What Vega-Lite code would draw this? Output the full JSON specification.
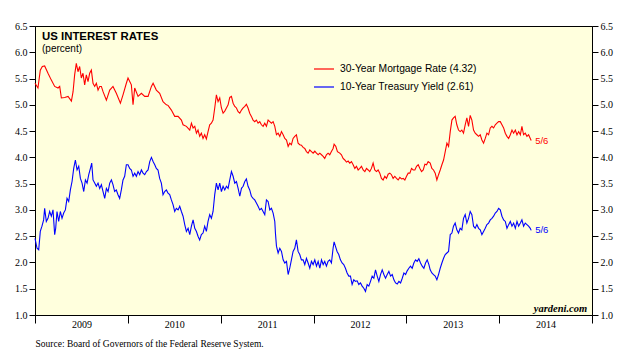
{
"$schema":"https://vega.github.io/schema/vega-lite/v6.json",
"width":557,"height":289,
"autosize":{"type":"none"},
"padding":{"left":35,"top":26,"right":38,"bottom":46},
"background":"white",
"config":{"view":{"fill":"#FFFFDD","stroke":"#000","strokeWidth":1},"font":"Liberation Sans"},
"title":{"text":"US INTEREST RATES","subtitle":"(percent)","anchor":"start","frame":"group","orient":"top","font":"Liberation Sans","fontSize":11.4,"fontWeight":"bold","color":"#000","subtitleFont":"Liberation Sans","subtitleFontSize":10,"subtitleColor":"#000","subtitlePadding":2,"offset":0,"dx":7,"dy":33},
"datasets":{
"m":[
{"d":2009.0,"v":5.41},{"d":2009.032,"v":5.32},{"d":2009.057,"v":5.66},{"d":2009.079,"v":5.73},{"d":2009.104,"v":5.74},{"d":2009.14,"v":5.6},{"d":2009.176,"v":5.47},{"d":2009.212,"v":5.35},{"d":2009.248,"v":5.32},{"d":2009.266,"v":5.35},{"d":2009.284,"v":5.13},{"d":2009.32,"v":5.14},{"d":2009.356,"v":5.16},{"d":2009.392,"v":5.07},{"d":2009.41,"v":5.25},{"d":2009.427,"v":5.57},{"d":2009.445,"v":5.79},{"d":2009.463,"v":5.63},{"d":2009.481,"v":5.73},{"d":2009.499,"v":5.51},{"d":2009.517,"v":5.6},{"d":2009.535,"v":5.38},{"d":2009.553,"v":5.57},{"d":2009.571,"v":5.44},{"d":2009.589,"v":5.6},{"d":2009.607,"v":5.66},{"d":2009.625,"v":5.41},{"d":2009.643,"v":5.35},{"d":2009.661,"v":5.41},{"d":2009.679,"v":5.28},{"d":2009.697,"v":5.35},{"d":2009.715,"v":5.35},{"d":2009.733,"v":5.25},{"d":2009.769,"v":5.09},{"d":2009.805,"v":5.28},{"d":2009.84,"v":5.35},{"d":2009.876,"v":5.22},{"d":2009.92,"v":5.03},{"d":2009.948,"v":5.19},{"d":2009.984,"v":5.41},{"d":2010.002,"v":5.51},{"d":2010.038,"v":5.38},{"d":2010.056,"v":5.0},{"d":2010.074,"v":5.32},{"d":2010.11,"v":5.16},{"d":2010.146,"v":5.22},{"d":2010.182,"v":5.16},{"d":2010.218,"v":5.16},{"d":2010.254,"v":5.35},{"d":2010.272,"v":5.41},{"d":2010.307,"v":5.28},{"d":2010.343,"v":5.22},{"d":2010.379,"v":5.06},{"d":2010.415,"v":5.0},
{"d":2010.433,"v":4.99},{"d":2010.469,"v":4.9},{"d":2010.505,"v":4.78},{"d":2010.541,"v":4.78},{"d":2010.577,"v":4.71},{"d":2010.595,"v":4.62},{"d":2010.631,"v":4.59},{"d":2010.667,"v":4.52},{"d":2010.685,"v":4.65},{"d":2010.703,"v":4.56},{"d":2010.721,"v":4.59},{"d":2010.739,"v":4.46},{"d":2010.756,"v":4.52},{"d":2010.774,"v":4.4},{"d":2010.792,"v":4.46},{"d":2010.81,"v":4.36},{"d":2010.828,"v":4.43},{"d":2010.846,"v":4.35},{"d":2010.864,"v":4.49},{"d":2010.882,"v":4.62},{"d":2010.9,"v":4.65},{"d":2010.918,"v":4.71},{"d":2010.936,"v":4.94},{"d":2010.954,"v":5.19},{"d":2010.972,"v":5.06},{"d":2010.99,"v":5.13},{"d":2011.008,"v":4.94},{"d":2011.026,"v":4.84},{"d":2011.044,"v":4.88},{"d":2011.062,"v":4.94},{"d":2011.08,"v":5.0},{"d":2011.098,"v":5.14},{"d":2011.116,"v":5.16},{"d":2011.134,"v":5.03},{"d":2011.152,"v":4.97},{"d":2011.17,"v":4.94},{"d":2011.188,"v":4.87},{"d":2011.206,"v":4.84},{"d":2011.224,"v":4.9},{"d":2011.242,"v":4.94},{"d":2011.26,"v":4.97},{"d":2011.277,"v":5.01},{"d":2011.295,"v":4.94},{"d":2011.313,"v":4.84},{"d":2011.331,"v":4.78},{"d":2011.349,"v":4.71},{"d":2011.367,"v":4.68},{"d":2011.385,"v":4.71},{"d":2011.403,"v":4.65},{"d":2011.421,"v":4.68},{"d":2011.439,"v":4.62},{"d":2011.457,"v":4.59},{"d":2011.475,"v":4.65},{"d":2011.493,"v":4.59},{"d":2011.511,"v":4.71},{"d":2011.529,"v":4.68},{"d":2011.547,"v":4.65},{"d":2011.565,"v":4.68},{"d":2011.583,"v":4.59},{"d":2011.601,"v":4.43},{"d":2011.619,"v":4.46},{"d":2011.637,"v":4.4},{"d":2011.655,"v":4.49},{"d":2011.673,"v":4.43},{"d":2011.691,"v":4.36},{"d":2011.709,"v":4.33},{"d":2011.727,"v":4.21},{"d":2011.744,"v":4.27},{"d":2011.762,"v":4.24},{"d":2011.78,"v":4.36},{"d":2011.798,"v":4.4},{"d":2011.816,"v":4.43},{"d":2011.834,"v":4.27},{"d":2011.852,"v":4.24},{"d":2011.87,"v":4.23},
{"d":2011.888,"v":4.19},{"d":2011.906,"v":4.17},{"d":2011.924,"v":4.11},{"d":2011.942,"v":4.08},{"d":2011.96,"v":4.14},{"d":2011.978,"v":4.11},{"d":2011.996,"v":4.08},{"d":2012.014,"v":4.12},{"d":2012.032,"v":4.08},{"d":2012.05,"v":4.05},{"d":2012.068,"v":4.08},{"d":2012.086,"v":4.05},{"d":2012.104,"v":4.02},{"d":2012.121,"v":3.98},{"d":2012.139,"v":4.05},{"d":2012.157,"v":4.08},{"d":2012.175,"v":4.05},{"d":2012.193,"v":4.11},{"d":2012.211,"v":4.17},{"d":2012.222,"v":4.25},{"d":2012.24,"v":4.21},{"d":2012.258,"v":4.11},{"d":2012.283,"v":4.08},{"d":2012.301,"v":4.05},{"d":2012.319,"v":3.98},{"d":2012.337,"v":3.95},{"d":2012.355,"v":3.91},{"d":2012.373,"v":3.93},{"d":2012.391,"v":3.89},{"d":2012.409,"v":3.92},{"d":2012.427,"v":3.86},{"d":2012.445,"v":3.79},{"d":2012.463,"v":3.83},{"d":2012.481,"v":3.76},{"d":2012.499,"v":3.79},{"d":2012.517,"v":3.83},{"d":2012.535,"v":3.76},{"d":2012.553,"v":3.73},{"d":2012.571,"v":3.79},{"d":2012.589,"v":3.76},{"d":2012.606,"v":3.73},{"d":2012.624,"v":3.79},{"d":2012.642,"v":3.89},{"d":2012.66,"v":3.76},{"d":2012.678,"v":3.73},{"d":2012.696,"v":3.76},{"d":2012.714,"v":3.7},{"d":2012.732,"v":3.6},{"d":2012.75,"v":3.57},{"d":2012.768,"v":3.64},{"d":2012.786,"v":3.6},{"d":2012.804,"v":3.68},{"d":2012.822,"v":3.7},{"d":2012.84,"v":3.67},{"d":2012.858,"v":3.6},{"d":2012.876,"v":3.64},{"d":2012.894,"v":3.6},{"d":2012.912,"v":3.57},{"d":2012.93,"v":3.62},{"d":2012.948,"v":3.59},{"d":2012.966,"v":3.6},{"d":2012.984,"v":3.57},{"d":2013.002,"v":3.64},{"d":2013.02,"v":3.7},{"d":2013.038,"v":3.7},{"d":2013.056,"v":3.79},{"d":2013.074,"v":3.76},{"d":2013.092,"v":3.76},{"d":2013.11,"v":3.83},{"d":2013.128,"v":3.86},{"d":2013.146,"v":3.79},{"d":2013.164,"v":3.73},{"d":2013.182,"v":3.76},{"d":2013.2,"v":3.87},{"d":2013.218,"v":3.86},{"d":2013.235,"v":3.92},
{"d":2013.257,"v":3.89},{"d":2013.275,"v":3.79},{"d":2013.293,"v":3.76},{"d":2013.311,"v":3.7},{"d":2013.329,"v":3.57},{"d":2013.347,"v":3.67},{"d":2013.365,"v":3.76},{"d":2013.383,"v":3.86},{"d":2013.401,"v":3.95},{"d":2013.419,"v":4.11},{"d":2013.437,"v":4.27},{"d":2013.455,"v":4.21},{"d":2013.473,"v":4.49},{"d":2013.491,"v":4.71},{"d":2013.508,"v":4.75},{"d":2013.526,"v":4.78},{"d":2013.544,"v":4.62},{"d":2013.562,"v":4.52},{"d":2013.58,"v":4.49},{"d":2013.598,"v":4.52},{"d":2013.616,"v":4.46},{"d":2013.634,"v":4.62},{"d":2013.652,"v":4.75},{"d":2013.67,"v":4.59},{"d":2013.688,"v":4.8},{"d":2013.706,"v":4.71},{"d":2013.724,"v":4.52},{"d":2013.742,"v":4.46},{"d":2013.76,"v":4.43},{"d":2013.778,"v":4.4},{"d":2013.796,"v":4.43},{"d":2013.814,"v":4.33},{"d":2013.832,"v":4.27},{"d":2013.85,"v":4.36},{"d":2013.868,"v":4.46},{"d":2013.886,"v":4.43},{"d":2013.904,"v":4.56},{"d":2013.922,"v":4.59},{"d":2013.94,"v":4.56},{"d":2013.958,"v":4.62},{"d":2013.976,"v":4.65},{"d":2013.994,"v":4.68},{"d":2014.012,"v":4.68},{"d":2014.03,"v":4.62},{"d":2014.048,"v":4.56},{"d":2014.066,"v":4.46},{"d":2014.084,"v":4.4},{"d":2014.102,"v":4.36},{"d":2014.12,"v":4.43},{"d":2014.138,"v":4.52},{"d":2014.156,"v":4.46},{"d":2014.174,"v":4.52},{"d":2014.192,"v":4.43},{"d":2014.21,"v":4.49},{"d":2014.228,"v":4.43},{"d":2014.245,"v":4.59},{"d":2014.263,"v":4.43},{"d":2014.281,"v":4.46},{"d":2014.299,"v":4.4},{"d":2014.317,"v":4.43},{"d":2014.335,"v":4.36},{"d":2014.345,"v":4.32}
],
"t":[
{"d":2009.0,"v":2.46},{"d":2009.022,"v":2.27},{"d":2009.04,"v":2.24},{"d":2009.057,"v":2.59},{"d":2009.075,"v":2.69},{"d":2009.093,"v":2.81},{"d":2009.104,"v":3.03},{"d":2009.122,"v":2.78},{"d":2009.14,"v":2.84},{"d":2009.158,"v":2.97},{"d":2009.176,"v":2.88},{"d":2009.194,"v":3.0},{"d":2009.212,"v":2.53},{"d":2009.223,"v":2.65},{"d":2009.237,"v":2.97},{"d":2009.255,"v":2.78},{"d":2009.273,"v":2.97},{"d":2009.291,"v":2.84},{"d":2009.309,"v":2.94},{"d":2009.327,"v":3.0},{"d":2009.345,"v":3.22},{"d":2009.363,"v":3.16},{"d":2009.381,"v":3.38},{"d":2009.399,"v":3.54},{"d":2009.417,"v":3.79},{"d":2009.435,"v":3.95},{"d":2009.453,"v":3.76},{"d":2009.471,"v":3.83},{"d":2009.489,"v":3.6},{"d":2009.507,"v":3.51},{"d":2009.525,"v":3.35},{"d":2009.543,"v":3.57},{"d":2009.561,"v":3.51},{"d":2009.579,"v":3.67},{"d":2009.597,"v":3.79},{"d":2009.611,"v":3.89},{"d":2009.625,"v":3.57},{"d":2009.643,"v":3.51},{"d":2009.661,"v":3.45},{"d":2009.679,"v":3.51},{"d":2009.697,"v":3.41},{"d":2009.715,"v":3.48},{"d":2009.733,"v":3.35},{"d":2009.751,"v":3.22},{"d":2009.769,"v":3.41},{"d":2009.787,"v":3.35},{"d":2009.805,"v":3.51},{"d":2009.823,"v":3.57},{"d":2009.84,"v":3.48},{"d":2009.858,"v":3.35},{"d":2009.876,"v":3.38},{"d":2009.894,"v":3.29},{"d":2009.912,"v":3.22},{"d":2009.93,"v":3.38},{"d":2009.948,"v":3.57},{"d":2009.966,"v":3.64},{"d":2009.984,"v":3.86},{"d":2010.002,"v":3.86},{"d":2010.02,"v":3.79},{"d":2010.038,"v":3.76},{"d":2010.056,"v":3.64},{"d":2010.074,"v":3.7},{"d":2010.092,"v":3.64},{"d":2010.11,"v":3.73},{"d":2010.128,"v":3.67},{"d":2010.146,"v":3.76},{"d":2010.164,"v":3.7},{"d":2010.182,"v":3.67},{"d":2010.2,"v":3.73},{"d":2010.218,"v":3.76},{"d":2010.236,"v":3.92},{"d":2010.254,"v":4.0},{"d":2010.272,"v":3.92},{"d":2010.29,"v":3.86},{"d":2010.307,"v":3.79},{"d":2010.325,"v":3.76},{"d":2010.343,"v":3.6},{"d":2010.361,"v":3.51},{"d":2010.379,"v":3.29},{"d":2010.397,"v":3.35},{"d":2010.415,"v":3.38},
{"d":2010.433,"v":3.32},{"d":2010.451,"v":3.29},{"d":2010.469,"v":3.19},{"d":2010.487,"v":3.1},{"d":2010.505,"v":2.97},{"d":2010.523,"v":3.03},{"d":2010.541,"v":3.0},{"d":2010.559,"v":3.07},{"d":2010.577,"v":2.97},{"d":2010.595,"v":2.88},{"d":2010.613,"v":2.72},{"d":2010.631,"v":2.59},{"d":2010.649,"v":2.65},{"d":2010.667,"v":2.53},{"d":2010.685,"v":2.69},{"d":2010.703,"v":2.81},{"d":2010.721,"v":2.65},{"d":2010.739,"v":2.59},{"d":2010.756,"v":2.5},{"d":2010.774,"v":2.43},{"d":2010.792,"v":2.53},{"d":2010.81,"v":2.56},{"d":2010.828,"v":2.69},{"d":2010.846,"v":2.59},{"d":2010.864,"v":2.78},{"d":2010.882,"v":2.91},{"d":2010.9,"v":2.84},{"d":2010.918,"v":2.97},{"d":2010.936,"v":3.29},{"d":2010.954,"v":3.51},{"d":2010.972,"v":3.38},{"d":2010.99,"v":3.51},{"d":2011.008,"v":3.35},{"d":2011.026,"v":3.45},{"d":2011.044,"v":3.38},{"d":2011.062,"v":3.45},{"d":2011.08,"v":3.41},{"d":2011.098,"v":3.57},{"d":2011.116,"v":3.73},{"d":2011.134,"v":3.64},{"d":2011.152,"v":3.51},{"d":2011.17,"v":3.54},{"d":2011.188,"v":3.41},{"d":2011.206,"v":3.26},{"d":2011.224,"v":3.41},{"d":2011.242,"v":3.45},{"d":2011.26,"v":3.54},{"d":2011.277,"v":3.59},{"d":2011.295,"v":3.45},{"d":2011.313,"v":3.38},{"d":2011.331,"v":3.26},{"d":2011.349,"v":3.22},{"d":2011.367,"v":3.19},{"d":2011.385,"v":3.13},{"d":2011.403,"v":3.07},{"d":2011.421,"v":3.0},{"d":2011.439,"v":3.03},{"d":2011.457,"v":2.97},{"d":2011.475,"v":2.91},{"d":2011.493,"v":3.19},{"d":2011.511,"v":3.16},{"d":2011.529,"v":3.0},{"d":2011.547,"v":3.03},{"d":2011.565,"v":2.94},{"d":2011.583,"v":2.78},{"d":2011.59,"v":2.56},{"d":2011.601,"v":2.31},{"d":2011.619,"v":2.18},{"d":2011.637,"v":2.27},{"d":2011.655,"v":2.21},{"d":2011.673,"v":2.05},{"d":2011.691,"v":1.99},{"d":2011.709,"v":2.02},{"d":2011.727,"v":1.77},{"d":2011.744,"v":1.89},{"d":2011.762,"v":2.05},{"d":2011.78,"v":2.21},{"d":2011.798,"v":2.27},{"d":2011.816,"v":2.43},{"d":2011.834,"v":2.21},{"d":2011.852,"v":2.15},{"d":2011.87,"v":2.05},
{"d":2011.888,"v":2.05},{"d":2011.906,"v":1.96},{"d":2011.924,"v":2.08},{"d":2011.942,"v":1.99},{"d":2011.96,"v":1.89},{"d":2011.978,"v":2.02},{"d":2011.996,"v":1.96},{"d":2012.014,"v":2.05},{"d":2012.032,"v":1.93},{"d":2012.05,"v":2.02},{"d":2012.068,"v":1.89},{"d":2012.086,"v":2.05},{"d":2012.104,"v":1.96},{"d":2012.121,"v":2.02},{"d":2012.139,"v":1.93},{"d":2012.157,"v":2.02},{"d":2012.175,"v":2.05},{"d":2012.193,"v":1.99},{"d":2012.211,"v":2.27},{"d":2012.222,"v":2.39},{"d":2012.236,"v":2.31},{"d":2012.254,"v":2.21},{"d":2012.272,"v":2.15},{"d":2012.29,"v":2.05},{"d":2012.308,"v":1.99},{"d":2012.326,"v":1.96},{"d":2012.344,"v":1.89},{"d":2012.362,"v":1.8},{"d":2012.38,"v":1.74},{"d":2012.398,"v":1.74},{"d":2012.416,"v":1.58},{"d":2012.434,"v":1.67},{"d":2012.452,"v":1.64},{"d":2012.47,"v":1.65},{"d":2012.488,"v":1.58},{"d":2012.506,"v":1.61},{"d":2012.524,"v":1.55},{"d":2012.542,"v":1.51},{"d":2012.56,"v":1.45},{"d":2012.578,"v":1.58},{"d":2012.596,"v":1.55},{"d":2012.614,"v":1.64},{"d":2012.632,"v":1.74},{"d":2012.65,"v":1.7},{"d":2012.668,"v":1.86},{"d":2012.686,"v":1.74},{"d":2012.704,"v":1.64},{"d":2012.722,"v":1.77},{"d":2012.74,"v":1.86},{"d":2012.758,"v":1.77},{"d":2012.776,"v":1.7},{"d":2012.794,"v":1.77},{"d":2012.812,"v":1.83},{"d":2012.83,"v":1.74},{"d":2012.848,"v":1.77},{"d":2012.866,"v":1.67},{"d":2012.884,"v":1.61},{"d":2012.902,"v":1.59},{"d":2012.92,"v":1.64},{"d":2012.938,"v":1.61},{"d":2012.956,"v":1.7},{"d":2012.974,"v":1.8},{"d":2012.992,"v":1.77},{"d":2013.009,"v":1.84},{"d":2013.027,"v":1.89},{"d":2013.045,"v":1.93},{"d":2013.063,"v":1.89},{"d":2013.081,"v":1.99},{"d":2013.099,"v":2.05},{"d":2013.117,"v":2.02},{"d":2013.135,"v":2.07},{"d":2013.153,"v":1.99},{"d":2013.171,"v":1.93},{"d":2013.189,"v":1.89},{"d":2013.207,"v":1.99},{"d":2013.225,"v":2.05},{"d":2013.243,"v":1.96},
{"d":2013.257,"v":1.86},{"d":2013.275,"v":1.8},{"d":2013.293,"v":1.77},{"d":2013.311,"v":1.74},{"d":2013.329,"v":1.67},{"d":2013.347,"v":1.77},{"d":2013.365,"v":1.89},{"d":2013.383,"v":1.99},{"d":2013.401,"v":2.08},{"d":2013.419,"v":2.15},{"d":2013.437,"v":2.18},{"d":2013.455,"v":2.21},{"d":2013.473,"v":2.53},{"d":2013.491,"v":2.56},{"d":2013.508,"v":2.69},{"d":2013.526,"v":2.75},{"d":2013.544,"v":2.62},{"d":2013.562,"v":2.56},{"d":2013.58,"v":2.65},{"d":2013.598,"v":2.62},{"d":2013.616,"v":2.84},{"d":2013.634,"v":2.91},{"d":2013.652,"v":2.75},{"d":2013.67,"v":2.84},{"d":2013.688,"v":2.97},{"d":2013.706,"v":2.91},{"d":2013.724,"v":2.69},{"d":2013.742,"v":2.65},{"d":2013.76,"v":2.72},{"d":2013.778,"v":2.65},{"d":2013.796,"v":2.62},{"d":2013.814,"v":2.53},{"d":2013.832,"v":2.59},{"d":2013.85,"v":2.65},{"d":2013.868,"v":2.72},{"d":2013.886,"v":2.75},{"d":2013.904,"v":2.81},{"d":2013.922,"v":2.84},{"d":2013.94,"v":2.88},{"d":2013.958,"v":2.94},{"d":2013.976,"v":2.97},{"d":2013.994,"v":3.03},{"d":2014.012,"v":3.0},{"d":2014.03,"v":2.88},{"d":2014.048,"v":2.81},{"d":2014.066,"v":2.78},{"d":2014.084,"v":2.65},{"d":2014.102,"v":2.72},{"d":2014.12,"v":2.78},{"d":2014.138,"v":2.69},{"d":2014.156,"v":2.75},{"d":2014.174,"v":2.65},{"d":2014.192,"v":2.78},{"d":2014.21,"v":2.69},{"d":2014.228,"v":2.75},{"d":2014.245,"v":2.81},{"d":2014.263,"v":2.69},{"d":2014.281,"v":2.75},{"d":2014.299,"v":2.72},{"d":2014.317,"v":2.69},{"d":2014.335,"v":2.65},{"d":2014.345,"v":2.61}
]
},
"layer":[
{"data":{"name":"m"},
 "mark":{"type":"line","strokeWidth":1.1},
 "encoding":{
  "x":{"field":"d","type":"quantitative","scale":{"domain":[2009,2015],"nice":false,"zero":false},
   "axis":{"values":[2009,2010,2011,2012,2013,2014,2015],"labelExpr":"datum.value < 2015 ? '' + datum.value : ''","labelOffset":46.4,"tickSize":8,"tickColor":"#000","domainColor":"#000","labelFont":"Liberation Serif","labelFontSize":10,"labelColor":"#000","labelPadding":-4,"grid":false,"labelFlush":false,"labelOverlap":false,"labelBound":false,
    "title":"Source: Board of Governors of the Federal Reserve System.","titleFont":"Liberation Serif","titleFontSize":9.5,"titleFontWeight":"normal","titleAnchor":"start","titleAlign":"left","titleX":0,"titleY":28,"titleBaseline":"middle","titleColor":"#000"}},
  "y":{"field":"v","type":"quantitative","scale":{"domain":[1,6.5],"nice":false,"zero":false},
   "axis":{"orient":"left","values":[1,1.5,2,2.5,3,3.5,4,4.5,5,5.5,6,6.5],"format":".1f","tickSize":6,"tickColor":"#000","domainColor":"#000","labelFont":"Liberation Serif","labelFontSize":10,"labelColor":"#000","labelPadding":2,"grid":false,"title":null}},
  "color":{"datum":"30-Year Mortgage Rate (4.32)","type":"nominal",
   "scale":{"domain":["30-Year Mortgage Rate (4.32)","10-Year Treasury Yield (2.61)"],"range":["#FF0000","#0000FF"]},
   "legend":{"orient":"none","legendX":278,"legendY":32,"title":null,"symbolType":"stroke","symbolSize":400,"symbolStrokeWidth":1.2,"labelFont":"Liberation Sans","labelFontSize":10.3,"labelColor":"#000","labelOffset":5,"rowPadding":1,"padding":0,"labelLimit":300}}
 }},
{"data":{"name":"t"},
 "mark":{"type":"line","strokeWidth":1.1},
 "encoding":{
  "x":{"field":"d","type":"quantitative"},
  "y":{"field":"v","type":"quantitative",
   "axis":{"orient":"right","values":[1,1.5,2,2.5,3,3.5,4,4.5,5,5.5,6,6.5],"format":".1f","tickSize":6,"tickColor":"#000","domainColor":"#000","labelFont":"Liberation Serif","labelFontSize":10,"labelColor":"#000","labelPadding":2,"grid":false,"title":null}},
  "color":{"datum":"10-Year Treasury Yield (2.61)","type":"nominal"}
 }},
{"data":{"values":[{"d":2014.345,"v":4.32,"l":"5/6"}]},
 "mark":{"type":"text","color":"#FF0000","align":"left","baseline":"middle","dx":4,"font":"Liberation Sans","fontSize":9.5},
 "encoding":{"x":{"field":"d","type":"quantitative"},"y":{"field":"v","type":"quantitative","axis":null},"text":{"field":"l"}}},
{"data":{"values":[{"d":2014.345,"v":2.61,"l":"5/6"}]},
 "mark":{"type":"text","color":"#0000FF","align":"left","baseline":"middle","dx":4,"font":"Liberation Sans","fontSize":9.5},
 "encoding":{"x":{"field":"d","type":"quantitative"},"y":{"field":"v","type":"quantitative","axis":null},"text":{"field":"l"}}},
{"data":{"values":[{"l":"yardeni.com"}]},
 "mark":{"type":"text","color":"#000","align":"right","baseline":"middle","font":"Liberation Serif","fontSize":10.5,"fontWeight":"bold","fontStyle":"italic"},
 "encoding":{"x":{"datum":2014.948,"type":"quantitative"},"y":{"datum":1.12,"type":"quantitative","axis":null},"text":{"field":"l"}}}
],
"resolve":{"axis":{"y":"independent"}}
}
